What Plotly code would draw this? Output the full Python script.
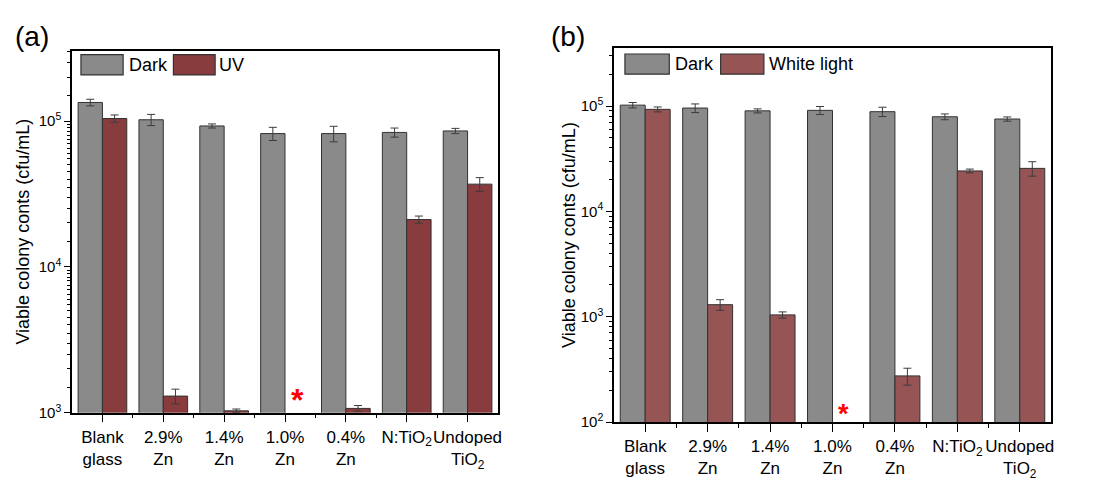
import plotly.graph_objects as go

categories = ["Blank<br>glass", "2.9%<br>Zn", "1.4%<br>Zn", "1.0%<br>Zn", "0.4%<br>Zn",
              "N:TiO<sub>2</sub>", "Undoped<br>TiO<sub>2</sub>"]

# Panel (a): Dark vs UV
a_dark = [134000, 102000, 92500, 82000, 82000, 83500, 85500]
a_dark_err = [7000, 9000, 3000, 8500, 10000, 6000, 3500]
a_uv = [104000, 1300, 1030, None, 1070, 21100, 36900]
a_uv_err = [6000, 150, 30, None, 50, 1200, 4000]

# Panel (b): Dark vs White light
b_dark = [102000, 95700, 90000, 91000, 88400, 79100, 75300]
b_dark_err = [6000, 9000, 4000, 8000, 9000, 5000, 3500]
b_wl = [93000, 1300, 1040, None, 274, 24200, 25600]
b_wl_err = [5000, 150, 70, None, 50, 1000, 4000]

a_ticks = [1e3, 1e4, 1e5]
a_ticktext = ["10<sup>3</sup>", "10<sup>4</sup>", "10<sup>5</sup>"]
b_ticks = [1e2, 1e3, 1e4, 1e5]
b_ticktext = ["10<sup>2</sup>", "10<sup>3</sup>", "10<sup>4</sup>", "10<sup>5</sup>"]

names_a = ["Dark", "UV"]
names_b = ["Dark", "White light"]
col_dark = "rgb(138,138,138)"
col_uv = "rgb(137,60,62)"
col_wl = "rgb(150,84,84)"
edge = "rgb(50,50,50)"
FONT = "Liberation Sans, Arial, sans-serif"

xpos = list(range(len(categories)))

fig = go.Figure()

def add_bars(y, err, name, color, xa, ya, group):
    fig.add_trace(go.Bar(
        x=xpos, y=y, name=name, xaxis=xa, yaxis=ya, offsetgroup=group,
        marker=dict(color=color, line=dict(color=edge, width=1)),
        error_y=dict(type="data", array=err, visible=True, color="rgb(60,60,60)",
                     thickness=1, width=4),
        showlegend=False))

add_bars(a_dark, a_dark_err, names_a[0], col_dark, "x", "y", "1")
add_bars(a_uv, a_uv_err, names_a[1], col_uv, "x", "y", "2")
add_bars(b_dark, b_dark_err, names_b[0], col_dark, "x2", "y2", "3")
add_bars(b_wl, b_wl_err, names_b[1], col_wl, "x2", "y2", "4")

minor_a = [m / 2 * 10 ** d for d in (3, 4, 5) for m in range(3, 20)]
minor_b = [m * 10 ** d for d in (2, 3, 4, 5) for m in range(2, 10)]

def xaxis_cfg(domain):
    return dict(domain=domain, range=[-0.5, len(categories) - 0.5], automargin=False,
                tickmode="array", tickvals=xpos, ticktext=categories, tickangle=0,
                ticks="outside", ticklen=8, tickwidth=1.2, tickcolor="black",
                showline=True, linecolor="black", linewidth=1.5, mirror=True,
                showgrid=False, zeroline=False,
                tickfont=dict(family=FONT, size=17, color="black"),
                minor=dict(tickmode="array",
                           tickvals=[i + 0.5 for i in xpos[:-1]],
                           ticks="outside", ticklen=4, tickwidth=1.2, tickcolor="black",
                           showgrid=False))

def yaxis_cfg(domain, rng, tv, tt, minor, anchor, standoff):
    return dict(domain=domain, type="log", range=rng, anchor=anchor, automargin=False,
                tickmode="array", tickvals=tv, ticktext=tt,
                ticks="outside", ticklen=6, tickwidth=1.2, tickcolor="black",
                showline=True, linecolor="black", linewidth=1.5, mirror=True,
                showgrid=False, zeroline=False,
                tickfont=dict(family=FONT, size=15, color="black"),
                title=dict(text="Viable colony conts (cfu/mL)",
                           font=dict(family=FONT, size=18, color="black"), standoff=standoff),
                minor=dict(tickmode="array", tickvals=minor, ticks="outside",
                           ticklen=3, tickwidth=1, tickcolor="black", showgrid=False))

fig.update_layout(
    width=1106, height=483,
    margin=dict(l=0, r=0, t=0, b=0),
    paper_bgcolor="white", plot_bgcolor="white",
    barmode="group", bargap=0.2, bargroupgap=0,
    font=dict(family=FONT, color="black"),
    xaxis=dict(xaxis_cfg([0.05787, 0.44304]), anchor="y"),
    yaxis=yaxis_cfg([0.16211, 0.91159], [3, 5.482], a_ticks, a_ticktext, minor_a, "x", 4),
    xaxis2=dict(xaxis_cfg([0.54792, 0.94304]), anchor="y2"),
    yaxis2=yaxis_cfg([0.14286, 0.91718], [2, 5.551], b_ticks, b_ticktext, minor_b, "x2", 0),
)

shapes = []
annotations = []

def legend(xref, yref, items, ytop, ybot, yc):
    for (name, color, x0, x1, tx) in items:
        shapes.append(dict(type="rect", xref=xref, yref=yref, x0=x0, x1=x1, y0=ybot, y1=ytop,
                           fillcolor=color, line=dict(color=edge, width=1.2)))
        annotations.append(dict(xref=xref, yref=yref, x=tx, y=yc, text=name, showarrow=False,
                                xanchor="left", yanchor="middle",
                                font=dict(family=FONT, size=18, color="black")))

legend("x domain", "y domain",
       [(names_a[0], col_dark, 0.021, 0.120, 0.128),
        (names_a[1], col_uv, 0.238, 0.336, 0.341)], 0.989, 0.933, 0.960)
legend("x2 domain", "y2 domain",
       [(names_b[0], col_dark, 0.025, 0.1265, 0.134),
        (names_b[1], col_wl, 0.244, 0.343, 0.351)], 0.984, 0.930, 0.957)

# red asterisks marking no viable colonies (1.0% Zn, illuminated)
annotations.append(dict(xref="x", yref="y", x=3.2, y=3.12, text="<b>*</b>", showarrow=False,
                        xanchor="center", yanchor="middle", yshift=-5, xshift=0,
                        font=dict(family=FONT, size=32, color="red")))
annotations.append(dict(xref="x2", yref="y2", x=3.2, y=2.13, text="<b>*</b>", showarrow=False,
                        xanchor="center", yanchor="middle", yshift=-6, xshift=-1,
                        font=dict(family=FONT, size=27, color="red")))

# panel labels
annotations.append(dict(xref="paper", yref="paper", x=0.0049, y=0.94, text="(a)", showarrow=False,
                        xanchor="left", yanchor="middle", font=dict(family=FONT, size=28, color="black")))
annotations.append(dict(xref="paper", yref="paper", x=0.489, y=0.94, text="(b)", showarrow=False,
                        xanchor="left", yanchor="middle", font=dict(family=FONT, size=28, color="black")))

fig.update_layout(shapes=shapes, annotations=annotations)
fig.write_html("out.html")
